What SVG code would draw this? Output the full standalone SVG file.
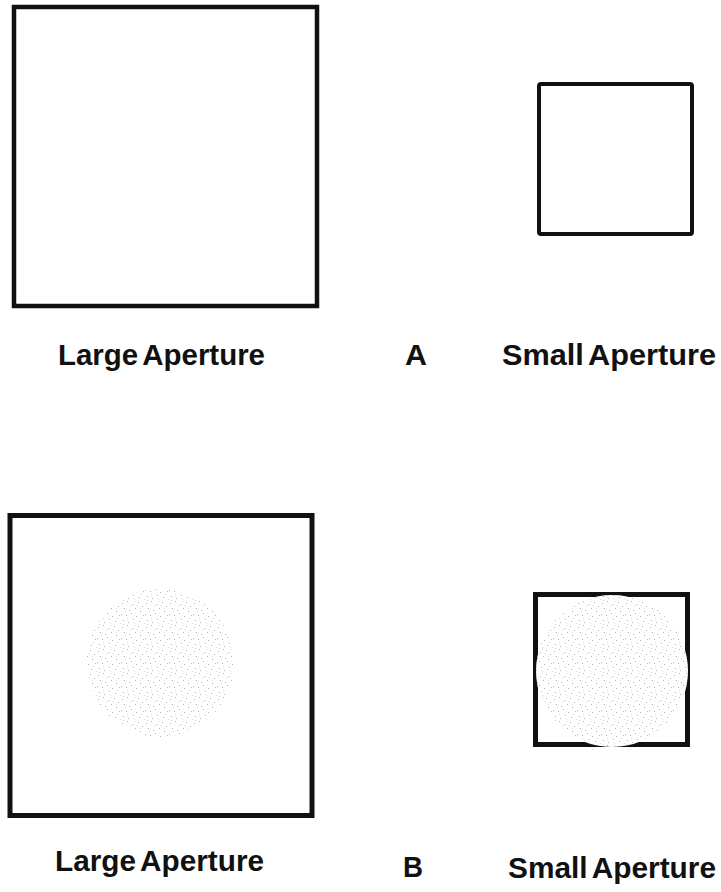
<svg xmlns="http://www.w3.org/2000/svg" width="721" height="892" viewBox="0 0 721 892">
  <style>
    .box { fill: none; stroke: #111; }
    .lbl { font-family: "Liberation Sans", Arial, sans-serif; font-size: 29px; font-weight: bold; fill: #111; word-spacing: -3px; }
  </style>
  <defs>
    <pattern id="stipple" width="24" height="24" patternUnits="userSpaceOnUse">
      <rect width="24" height="24" fill="#fff"/>
      <g fill="#b4b4b4">
        <rect x="2" y="3" width="1" height="1"/><rect x="7" y="1" width="1" height="1"/>
        <rect x="12" y="4" width="1" height="1"/><rect x="18" y="2" width="1" height="1"/>
        <rect x="22" y="6" width="1" height="1"/><rect x="4" y="8" width="1" height="1"/>
        <rect x="9" y="10" width="1" height="1"/><rect x="15" y="8" width="1" height="1"/>
        <rect x="20" y="11" width="1" height="1"/><rect x="1" y="14" width="1" height="1"/>
        <rect x="6" y="15" width="1" height="1"/><rect x="11" y="13" width="1" height="1"/>
        <rect x="16" y="16" width="1" height="1"/><rect x="23" y="15" width="1" height="1"/>
        <rect x="3" y="20" width="1" height="1"/><rect x="8" y="22" width="1" height="1"/>
        <rect x="13" y="19" width="1" height="1"/><rect x="19" y="21" width="1" height="1"/>
      </g>
      <g fill="#d8d8d8">
        <rect x="10" y="6" width="1" height="1"/><rect x="17" y="5" width="1" height="1"/>
        <rect x="5" y="11" width="1" height="1"/><rect x="14" y="23" width="1" height="1"/>
        <rect x="21" y="18" width="1" height="1"/><rect x="0" y="23" width="1" height="1"/>
        <rect x="3" y="0" width="1" height="1"/><rect x="14" y="1" width="1" height="1"/>
        <rect x="20" y="8" width="1" height="1"/><rect x="7" y="18" width="1" height="1"/>
      </g>
    </pattern>
  </defs>
  <rect width="721" height="892" fill="#fff"/>

  <g id="large-aperture-a">
    <rect class="box" x="14" y="7" width="303" height="299" stroke-width="4.5"/>
  </g>
  <g id="small-aperture-a">
    <rect class="box" x="539" y="84" width="153" height="150" rx="2" stroke-width="4" stroke="#222"/>
  </g>
  <g id="large-aperture-b">
    <rect class="box" x="10" y="515.5" width="302" height="300" stroke-width="5"/>
    <circle cx="160" cy="663" r="74" fill="url(#stipple)"/>
  </g>
  <g id="small-aperture-b">
    <rect class="box" x="535.5" y="594.5" width="152" height="150" stroke-width="5"/>
    <circle cx="612" cy="671" r="76" fill="url(#stipple)"/>
  </g>
  <g id="connectors"/>

  <g id="labels-a">
    <text class="lbl" x="58" y="365" textLength="207" lengthAdjust="spacingAndGlyphs">Large Aperture</text>
    <text class="lbl" x="405" y="365" textLength="22" lengthAdjust="spacingAndGlyphs">A</text>
    <text class="lbl" x="502" y="365" textLength="214" lengthAdjust="spacingAndGlyphs">Small Aperture</text>
  </g>
  <g id="labels-b">
    <text class="lbl" x="55" y="871" textLength="209" lengthAdjust="spacingAndGlyphs">Large Aperture</text>
    <text class="lbl" x="403" y="877" textLength="20" lengthAdjust="spacingAndGlyphs">B</text>
    <text class="lbl" x="508" y="878" textLength="208" lengthAdjust="spacingAndGlyphs">Small Aperture</text>
  </g>
</svg>
